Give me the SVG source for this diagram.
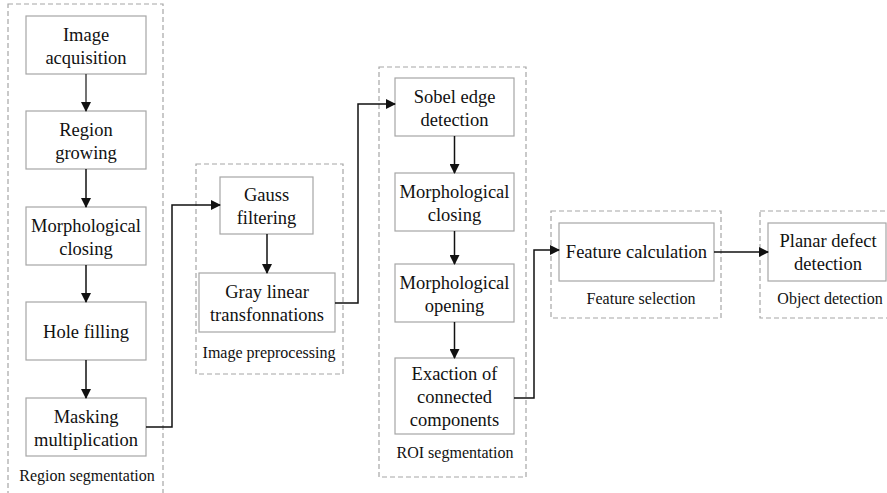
<svg xmlns="http://www.w3.org/2000/svg" width="887" height="493" viewBox="0 0 887 493">
<style>
.grp{fill:none;stroke:#a6a6a6;stroke-width:1.2;stroke-dasharray:5,3}
.box{fill:#fff;stroke:#a6a6a6;stroke-width:1.2}
.t{font-size:18.5px;fill:#111;text-anchor:middle}
.l{font-size:16px;fill:#111;text-anchor:middle}
.c{fill:none;stroke:#111;stroke-width:1.5}
</style>
<defs>
<marker id="ah" markerWidth="10" markerHeight="10" refX="9" refY="5" orient="auto" markerUnits="userSpaceOnUse">
<path d="M0,0 L10,5 L0,10 Z" fill="#111"/>
</marker>
</defs>
<rect fill="#fff" width="887" height="493"/>
<g font-family="'Liberation Serif', 'Times New Roman', 'DejaVu Serif', serif">
<g id="groups">
<rect class="grp" x="8" y="4" width="155" height="495"/>
<rect class="grp" x="196" y="164" width="147" height="210"/>
<rect class="grp" x="379" y="67" width="147" height="410"/>
<rect class="grp" x="551" y="211" width="170" height="107"/>
<rect class="grp" x="760" y="211" width="140" height="107"/>
<text class="l" x="87" y="481">Region segmentation</text>
<text class="l" x="269" y="358">Image preprocessing</text>
<text class="l" x="455" y="458">ROI segmentation</text>
<text class="l" x="641" y="304">Feature selection</text>
<text class="l" x="830" y="304">Object detection</text>
</g>
<g id="n1"><rect class="box" x="26" y="16" width="120" height="58"/><text class="t" x="86" y="40.5">Image</text><text class="t" x="86" y="63.5">acquisition</text></g>
<g id="n2"><rect class="box" x="26" y="111" width="120" height="58"/><text class="t" x="86" y="135.5">Region</text><text class="t" x="86" y="158.5">growing</text></g>
<g id="n3"><rect class="box" x="26" y="207" width="120" height="58"/><text class="t" x="86" y="231.5">Morphological</text><text class="t" x="86" y="254.5">closing</text></g>
<g id="n4"><rect class="box" x="26" y="302" width="120" height="58"/><text class="t" x="86" y="337.5">Hole filling</text></g>
<g id="n5"><rect class="box" x="26" y="398" width="120" height="58"/><text class="t" x="86" y="422.5">Masking</text><text class="t" x="86" y="445.5">multiplication</text></g>
<g id="n6"><rect class="box" x="220" y="177" width="93" height="57"/><text class="t" x="266.5" y="201">Gauss</text><text class="t" x="266.5" y="224">filtering</text></g>
<g id="n7"><rect class="box" x="199" y="273" width="136" height="59"/><text class="t" x="267" y="297.5">Gray linear</text><text class="t" x="267" y="320.5">transfonnations</text></g>
<g id="n8"><rect class="box" x="395" y="78" width="119" height="58"/><text class="t" x="454.5" y="102.5">Sobel edge</text><text class="t" x="454.5" y="125.5">detection</text></g>
<g id="n9"><rect class="box" x="395" y="173" width="119" height="58"/><text class="t" x="454.5" y="197.5">Morphological</text><text class="t" x="454.5" y="220.5">closing</text></g>
<g id="n10"><rect class="box" x="395" y="264" width="119" height="58"/><text class="t" x="454.5" y="288.5">Morphological</text><text class="t" x="454.5" y="311.5">opening</text></g>
<g id="n11"><rect class="box" x="395" y="358" width="119" height="76"/><text class="t" x="454.5" y="379.5">Exaction of</text><text class="t" x="454.5" y="402.5">connected</text><text class="t" x="454.5" y="425.5">components</text></g>
<g id="n12"><rect class="box" x="559" y="223" width="155" height="58"/><text class="t" x="636.5" y="258">Feature calculation</text></g>
<g id="n13"><rect class="box" x="768" y="223" width="118" height="58"/><text class="t" x="828" y="246.5">Planar defect</text><text class="t" x="828" y="269.5">detection</text></g>
</g>
<g id="connectors">
<path class="c" style="stroke:#444" d="M86,74 V111" marker-end="url(#ah)"/>
<path class="c" d="M86,169 V207" marker-end="url(#ah)"/>
<path class="c" d="M86,265 V302" marker-end="url(#ah)"/>
<path class="c" d="M86,360 V398" marker-end="url(#ah)"/>
<path class="c" d="M146,427 H172 V205 H220" marker-end="url(#ah)"/>
<path class="c" d="M267,234 V273" marker-end="url(#ah)"/>
<path class="c" d="M335,303 H358 V104 H395" marker-end="url(#ah)"/>
<path class="c" d="M454.5,136 V173" marker-end="url(#ah)"/>
<path class="c" d="M454.5,231 V264" marker-end="url(#ah)"/>
<path class="c" d="M454.5,322 V358" marker-end="url(#ah)"/>
<path class="c" d="M514,398 H534 V250 H559" marker-end="url(#ah)"/>
<path class="c" d="M714,252 H768" marker-end="url(#ah)"/>
</g>
</svg>
